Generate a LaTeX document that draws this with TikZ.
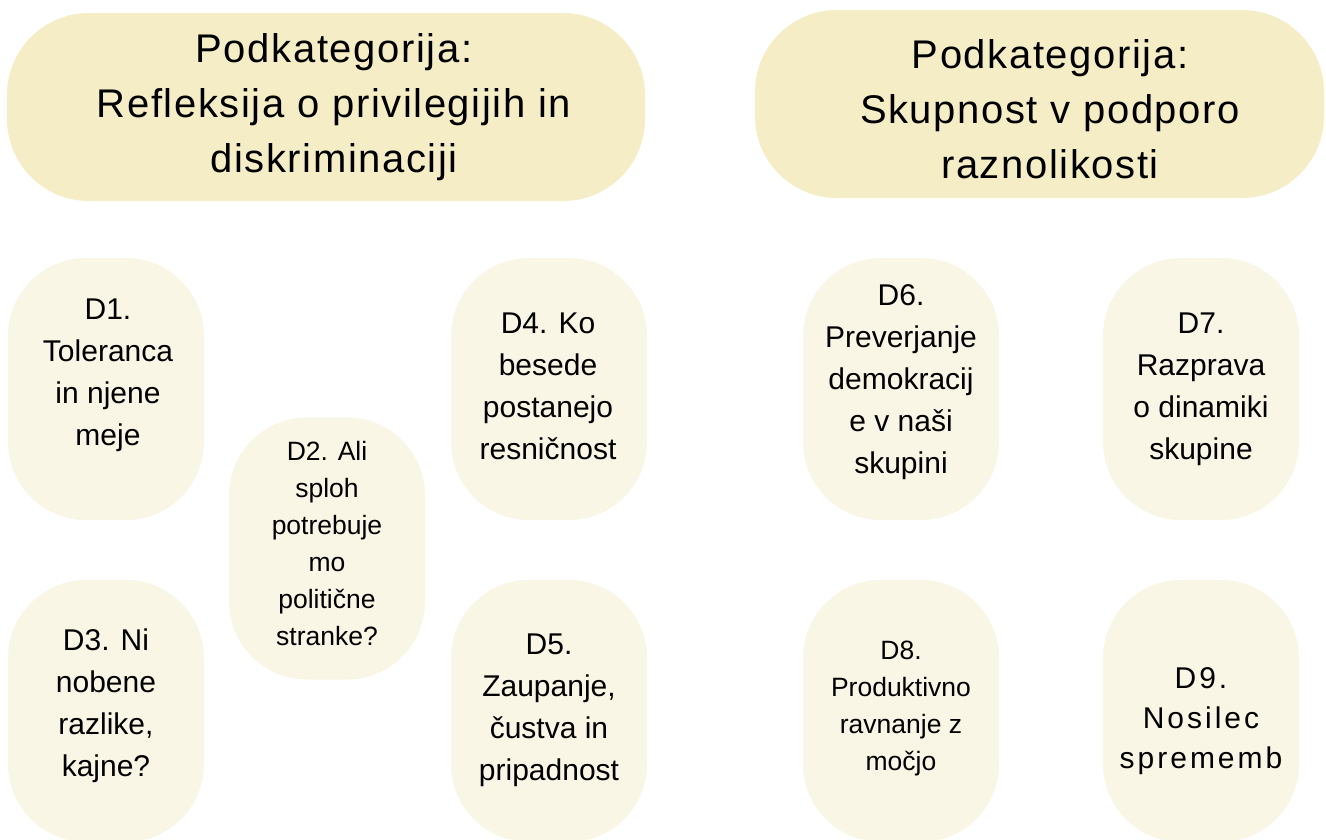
\documentclass[tikz,border=0pt]{standalone}
\usepackage{fontspec}
\setmainfont{Liberation Sans}
\newfontfamily\hdrfont{Liberation Sans}[LetterSpace=4]
\newfontfamily\widefont{Liberation Sans}[LetterSpace=10]
\definecolor{hdrfill}{HTML}{F5EDC6}
\definecolor{boxfill}{HTML}{FAF6E6}
\tikzset{
  hdrbox/.style={rectangle, rounded corners=82, fill=hdrfill, draw=none, inner sep=0pt},
  dbox/.style={rectangle, rounded corners=78, fill=boxfill, draw=none, inner sep=0pt, minimum width=196, minimum height=262},
  hdrtext/.style={align=center, inner sep=0pt, font=\hdrfont\fontsize{40}{55}\selectfont},
  dtext/.style={align=center, inner sep=0pt, font=\fontsize{30}{42}\selectfont},
  dsmall/.style={align=center, inner sep=0pt, font=\fontsize{26.5}{37}\selectfont},
  dwide/.style={align=center, inner sep=0pt, font=\widefont\fontsize{30}{40}\selectfont},
}
\begin{document}
\begin{tikzpicture}[x=1pt,y=-1pt]
\useasboundingbox[fill=white] (0,0) rectangle (1326,839);
% headers
\node[hdrbox, minimum width=638, minimum height=188] (h1) at (326,107) {};
\node[hdrbox, minimum width=569, minimum height=188] (h2) at (1039.5,104) {};
\node[hdrtext] (h1t) at (334,107) {Podkategorija:\\Refleksija o privilegijih in\\diskriminaciji};
\node[hdrtext] (h2t) at (1050,109) {Podkategorija:\\Skupnost v podporo\\raznolikosti};
% boxes
\node[dbox] (d1) at (106,389) {};
\node[dbox] (d2) at (327,548.5) {};
\node[dbox] (d4) at (549,389) {};
\node[dbox] (d3) at (106,711) {};
\node[dbox] (d5) at (549,711) {};
\node[dbox] (d6) at (901,389) {};
\node[dbox] (d7) at (1201,389) {};
\node[dbox] (d8) at (901,711) {};
\node[dbox] (d9) at (1201,711) {};
% texts
\node[dtext] (t1) at (108,375) {D1.\\Toleranca\\in njene\\meje};
\node[dsmall] (t2) at (327,544) {D2. Ali\\sploh\\potrebuje\\mo\\politične\\stranke?};
\node[dtext] (t4) at (548,386) {D4. Ko\\besede\\postanejo\\resničnost};
\node[dtext] (t3) at (106,706) {D3. Ni\\nobene\\razlike,\\kajne?};
\node[dtext] (t5) at (549,710) {D5.\\Zaupanje,\\čustva in\\pripadnost};
\node[dtext] (t6) at (901,382) {D6.\\Preverjanje\\demokracij\\e v naši\\skupini};
\node[dtext] (t7) at (1201,389) {D7.\\Razprava\\o dinamiki\\skupine};
\node[dsmall] (t8) at (901,708) {D8.\\Produktivno\\ravnanje z\\močjo};
\node[dwide] (t9) at (1201,721) {D9.\\Nosilec\\sprememb};
\end{tikzpicture}
\end{document}
